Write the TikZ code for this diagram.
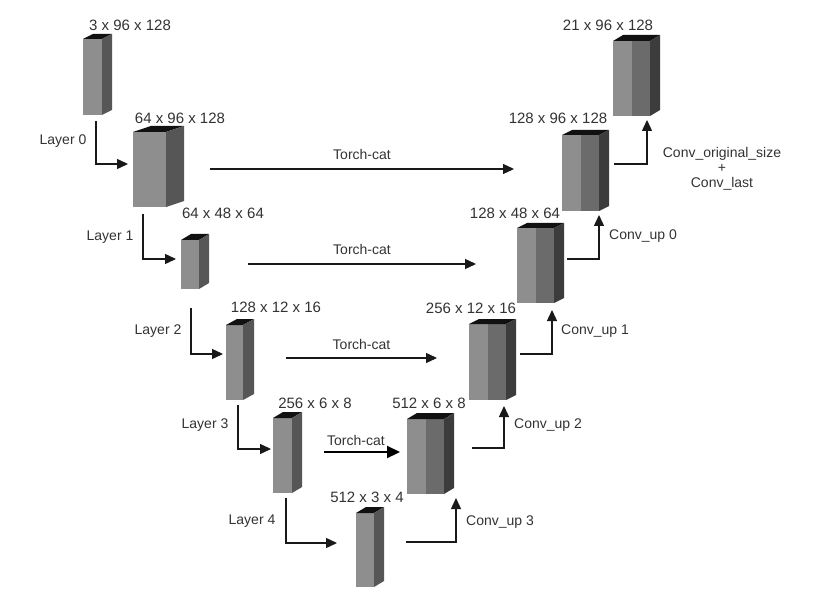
\documentclass[tikz,border=0pt]{standalone}
\usepackage{fontspec}
\setmainfont{Liberation Sans}
\usetikzlibrary{arrows.meta}
\definecolor{txt}{HTML}{333333}
\definecolor{frontA}{HTML}{8E8E8E}
\definecolor{frontB}{HTML}{6B6B6B}
\definecolor{sideE}{HTML}{565656}
\definecolor{sideD}{HTML}{3C3C3C}
\definecolor{topc}{HTML}{111111}
\tikzset{
  face/.style={inner sep=0pt, outer sep=0pt, draw=none},
  lbl/.style={inner sep=0pt, text=txt, font=\fontsize{14}{16}\selectfont},
  numlbl/.style={lbl, font=\fontsize{15}{17}\selectfont},
  arr/.style={line width=1.4pt, draw=black!90, -{Triangle[length=11pt,width=10pt]}},
  thickarr/.style={line width=2.2pt, draw=black, -{Triangle[length=13pt,width=12pt]}},
}
% name, x1, y1, x2, y2, dx, dy
\newcommand\encblk[7]{%
  \node[face, fill=frontA, minimum width={#4-#2}, minimum height={#5-#3}] (#1) at ({(#2+#4)/2},{(#3+#5)/2}) {};
  \fill[topc] (#1.north west) -- ++(#6,-#7) -- ++({#4-#2},0) -- (#1.north east) -- cycle;
  \fill[sideE] (#1.north east) -- ++(#6,-#7) -- ++(0,{#5-#3}) -- (#1.south east) -- cycle;
}
\newcommand\decblk[7]{%
  \node[face, fill=frontA, minimum width={#4-#2}, minimum height={#5-#3}] (#1) at ({(#2+#4)/2},{(#3+#5)/2}) {};
  \fill[frontB] (#1.north) rectangle (#1.south east);
  \fill[topc] (#1.north west) -- ++(#6,-#7) -- ++({#4-#2},0) -- (#1.north east) -- cycle;
  \fill[sideD] (#1.north east) -- ++(#6,-#7) -- ++(0,{#5-#3}) -- (#1.south east) -- cycle;
}
\begin{document}
\begin{tikzpicture}[x=1pt,y=-1pt]
\useasboundingbox[fill=white] (0,0) rectangle (821,612);
% encoder blocks
\encblk{b0}{83}{39}{102}{115}{10}{5}
\encblk{b1}{133}{132}{166}{207}{18}{6}
\encblk{b2}{181}{240}{199}{289}{10}{6}
\encblk{b3}{226}{325}{243}{400}{11}{6}
\encblk{b4}{273}{418}{292}{493}{10}{6}
\encblk{b5}{356}{513}{374}{587}{10}{6}
% decoder blocks
\decblk{b6}{407}{419}{444}{494}{10}{6}
\decblk{b7}{469}{324}{506}{400}{10}{5}
\decblk{b8}{517}{228}{554}{303}{10}{5}
\decblk{b9}{562}{135}{599}{211}{10}{5}
\decblk{b10}{613}{41}{650}{116}{10}{6}
% size labels
\node[numlbl] (l0) at (130,25) {3 x 96 x 128};
\node[numlbl] (l1) at (180,118) {64 x 96 x 128};
\node[numlbl] (l2) at (223,213) {64 x 48 x 64};
\node[numlbl] (l3) at (276,307) {128 x 12 x 16};
\node[numlbl] (l4) at (315,403) {256 x 6 x 8};
\node[numlbl] (l5) at (367,497) {512 x 3 x 4};
\node[numlbl] (l6) at (429,403) {512 x 6 x 8};
\node[numlbl] (l7) at (471,308) {256 x 12 x 16};
\node[numlbl] (l8) at (515,213) {128 x 48 x 64};
\node[numlbl] (l9) at (558,118) {128 x 96 x 128};
\node[numlbl] (l10) at (608,25) {21 x 96 x 128};
% layer labels
\node[lbl] (t0) at (63,141) {Layer 0};
\node[lbl] (t1) at (110,237) {Layer 1};
\node[lbl] (t2) at (158,331) {Layer 2};
\node[lbl] (t3) at (205,425) {Layer 3};
\node[lbl] (t4) at (252,521) {Layer 4};
% encoder arrows
\draw[arr] ([xshift=3.5pt,yshift=-6pt]b0.south) |- ([xshift=-5pt,yshift=5.5pt]b1.west);
\draw[arr] ([xshift=-6.5pt,yshift=-7pt]b1.south) |- ([xshift=-5pt,yshift=5.5pt]b2.west);
\draw[arr] ([xshift=1pt,yshift=-19pt]b2.south) |- ([xshift=-3pt,yshift=8.5pt]b3.west);
\draw[arr] ([xshift=3.5pt,yshift=-5pt]b3.south) |- ([xshift=-2pt,yshift=6.5pt]b4.west);
\draw[arr] ([xshift=3.5pt,yshift=-5pt]b4.south) |- ([xshift=-19pt,yshift=7pt]b5.west);
% torch-cat arrows
\draw[arr] ([xshift=44pt,yshift=0.5pt]b1.east) -- ([xshift=-48pt,yshift=4pt]b9.west) node[lbl, midway, above=9pt] (c0) {Torch-cat};
\draw[arr] ([xshift=49pt,yshift=0.5pt]b2.east) -- ([xshift=-41pt,yshift=1.5pt]b8.west) node[lbl, midway, above=9pt] (c1) {Torch-cat};
\draw[arr] ([xshift=43pt,yshift=4.5pt]b3.east) -- ([xshift=-32pt,yshift=4pt]b7.west) node[lbl, midway, above=8pt] (c2) {Torch-cat};
\draw[thickarr] ([xshift=32pt,yshift=3.5pt]b4.east) -- ([xshift=-7pt,yshift=4.5pt]b6.west) node[lbl, pos=0.42, above=5pt] (c3) {Torch-cat};
% decoder arrows
\draw[arr] ([xshift=32pt,yshift=8pt]b5.east) -| ([xshift=12pt,yshift=-4pt]b6.south east);
\draw[arr] ([xshift=28pt,yshift=8.5pt]b6.east) -| ([xshift=-2pt,yshift=-6pt]b7.south east);
\draw[arr] ([xshift=14pt,yshift=8pt]b7.east) -| ([xshift=-2pt,yshift=-7pt]b8.south east);
\draw[arr] ([xshift=13pt,yshift=6.5pt]b8.east) -| ([xshift=0pt,yshift=-4pt]b9.south east);
\draw[arr] ([xshift=15pt,yshift=9pt]b9.east) -| ([xshift=-3pt,yshift=-4pt]b10.south east);
% decoder labels
\node[lbl] (u3) at (500,522) {Conv\_up 3};
\node[lbl] (u2) at (548,425) {Conv\_up 2};
\node[lbl] (u1) at (595,331) {Conv\_up 1};
\node[lbl] (u0) at (643,236) {Conv\_up 0};
\node[lbl, align=center] (uo) at (722,169) {Conv\_original\_size\\[-1pt]+\\[-1pt]Conv\_last};
\end{tikzpicture}
\end{document}
